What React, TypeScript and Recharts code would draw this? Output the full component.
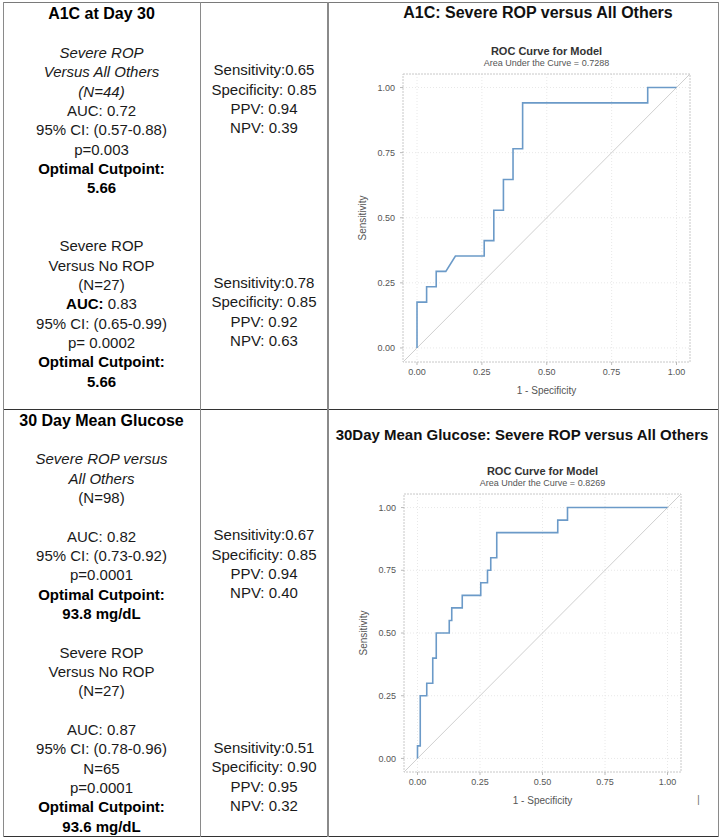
import React from "react";
import { LineChart, Line, XAxis, YAxis, CartesianGrid, ReferenceLine, ReferenceArea } from "recharts";

// ---------- data ----------
const tickValues = [0, 0.25, 0.5, 0.75, 1];
const tickLabels = ["0.00", "0.25", "0.50", "0.75", "1.00"];

const a1cFpr = [0, 0, 0.037, 0.037, 0.074, 0.074, 0.111, 0.148, 0.259, 0.259, 0.296, 0.296, 0.333, 0.333, 0.37, 0.37, 0.407, 0.407, 0.889, 0.889, 1.0];
const a1cTpr = [0, 0.176, 0.176, 0.235, 0.235, 0.294, 0.294, 0.353, 0.353, 0.412, 0.412, 0.529, 0.529, 0.647, 0.647, 0.765, 0.765, 0.941, 0.941, 1.0, 1.0];
const a1cAuc = "0.7288";

const gluFpr = [0, 0, 0.011, 0.011, 0.037, 0.037, 0.061, 0.061, 0.075, 0.075, 0.127, 0.127, 0.137, 0.137, 0.179, 0.179, 0.253, 0.253, 0.28, 0.28, 0.293, 0.293, 0.317, 0.317, 0.561, 0.561, 0.6, 0.6, 1.0];
const gluTpr = [0, 0.05, 0.05, 0.25, 0.25, 0.3, 0.3, 0.4, 0.4, 0.5, 0.5, 0.55, 0.55, 0.6, 0.6, 0.65, 0.65, 0.7, 0.7, 0.75, 0.75, 0.8, 0.8, 0.9, 0.9, 0.95, 0.95, 1.0, 1.0];
const gluAuc = "0.8269";

type Seg = { t: string; b?: boolean; i?: boolean };
type Ln = Seg[];
const L = (t: string, b = false, i = false): Ln => [{ t, b, i }];
const B: Ln = [];

const row1Col1: Ln[] = [
  L("A1C at Day 30", true), B,
  L("Severe ROP", false, true), L("Versus All Others", false, true), L("(N=44)", false, true),
  L("AUC: 0.72"), L("95% CI: (0.57-0.88)"), L("p=0.003"),
  L("Optimal Cutpoint:", true), L("5.66", true), B, B,
  L("Severe ROP"), L("Versus No ROP"), L("(N=27)"),
  [{ t: "AUC:", b: true }, { t: " 0.83" }], L("95% CI: (0.65-0.99)"), L("p= 0.0002"),
  L("Optimal Cutpoint:", true), L("5.66", true),
];
const row1Col2: Ln[] = [
  L("Sensitivity:0.65"), L("Specificity: 0.85"), L("PPV: 0.94"), L("NPV: 0.39"),
  B, B, B, B, B, B, B,
  L("Sensitivity:0.78"), L("Specificity: 0.85"), L("PPV: 0.92"), L("NPV: 0.63"),
];
const row2Col1: Ln[] = [
  L("30 Day Mean Glucose", true), B,
  L("Severe ROP versus", false, true), L("All Others", false, true), L("(N=98)"), B,
  L("AUC: 0.82"), L("95% CI: (0.73-0.92)"), L("p=0.0001"),
  L("Optimal Cutpoint:", true), L("93.8 mg/dL", true), B,
  L("Severe ROP"), L("Versus No ROP"), L("(N=27)"), B,
  L("AUC: 0.87"), L("95% CI: (0.78-0.96)"), L("N=65"), L("p=0.0001"),
  L("Optimal Cutpoint:", true), L("93.6 mg/dL", true),
];
const row2Col2: Ln[] = [
  L("Sensitivity:0.67"), L("Specificity: 0.85"), L("PPV: 0.94"), L("NPV: 0.40"),
  B, B, B, B, B, B, B,
  L("Sensitivity:0.51"), L("Specificity: 0.90"), L("PPV: 0.95"), L("NPV: 0.32"),
];

const title1 = "A1C: Severe ROP versus All Others";
const title2 = "30Day Mean Glucose: Severe ROP versus All Others";

// ---------- components ----------
const FONT = '"Liberation Sans", Arial, sans-serif';

function Cell({ lines, left, width, top, first16 }: { lines: Ln[]; left: number; width: number; top: number; first16?: boolean }) {
  return (
    <div style={{ position: "absolute", left, width, top, textAlign: "center", fontFamily: FONT, fontSize: 15, lineHeight: "19.35px", color: "#1a1a1a" }}>
      {lines.map((ln, k) => (
        <div key={k} style={{ height: 19.35, whiteSpace: "nowrap", fontSize: first16 && k === 0 ? 16 : 15 }}>
          {ln.map((s, j) => (
            <span key={j} style={{ fontWeight: s.b ? 700 : 400, fontStyle: s.i ? "italic" : "normal", color: s.b ? "#000" : undefined }}>{s.t}</span>
          ))}
        </div>
      ))}
    </div>
  );
}

function Roc({ fpr, tpr, auc, left, top, margin, domain }: { fpr: number[]; tpr: number[]; auc: string; left: number; top: number; margin: { top: number; right: number; bottom: number; left: number }; domain: [number, number] }) {
  const data = fpr.map((x, i) => ({ x, y: tpr[i] }));
  const W = 390, H = 380;
  const plotL = margin.left + 40;
  const plotR = W - margin.right;
  const cx = (plotL + plotR) / 2;
  const fmt = (v: number) => tickLabels[tickValues.indexOf(v)] ?? String(v);
  const tickStyle = { fontSize: 9, fill: "#555", fontFamily: FONT };
  return (
    <div style={{ position: "absolute", left, top, width: W, height: H }}>
      <div style={{ position: "absolute", left: cx - 150, width: 300, top: margin.top - 29, textAlign: "center", fontFamily: FONT, fontSize: 11, fontWeight: 700, color: "#333", lineHeight: "13px" }}>ROC Curve for Model</div>
      <div style={{ position: "absolute", left: cx - 150, width: 300, top: margin.top - 16, textAlign: "center", fontFamily: FONT, fontSize: 9, color: "#555", lineHeight: "11px" }}>Area Under the Curve = {auc}</div>
      <LineChart width={W} height={H} data={data} margin={margin}>
        <CartesianGrid stroke="#e8e8e8" strokeDasharray="1 2" horizontalValues={tickValues} verticalValues={tickValues} />
        <ReferenceArea x1={domain[0]} x2={domain[1]} y1={domain[0]} y2={domain[1]} fill="none" stroke="#c8c8c8" strokeDasharray="2 1" ifOverflow="visible" />
        <XAxis type="number" dataKey="x" domain={domain} allowDataOverflow ticks={tickValues} tickFormatter={fmt} height={30} tickSize={3} tickMargin={4} axisLine={false} tickLine={{ stroke: "#bbb" }} tick={tickStyle}
          label={{ value: "1 - Specificity", position: "center", dy: 13, style: { fontSize: 10, fill: "#555", fontFamily: FONT } }} />
        <YAxis type="number" domain={domain} allowDataOverflow ticks={tickValues} tickFormatter={fmt} width={40} tickSize={3} tickMargin={5} axisLine={false} tickLine={{ stroke: "#bbb" }} tick={tickStyle}
          label={{ value: "Sensitivity", angle: -90, position: "center", dx: -21, style: { fontSize: 10, fill: "#555", fontFamily: FONT, textAnchor: "middle" } }} />
        <ReferenceLine segment={[{ x: domain[0], y: domain[0] }, { x: domain[1], y: domain[1] }]} stroke="#cfcfcf" strokeWidth={1} />
        <Line type="linear" dataKey="y" stroke="#6b9ac8" strokeWidth={1.6} dot={false} isAnimationActive={false} />
      </LineChart>
    </div>
  );
}

function HLine({ y, x1, x2, c }: { y: number; x1: number; x2: number; c: string }) {
  return <div style={{ position: "absolute", left: x1, top: y, width: x2 - x1, height: 1.5, background: c }} />;
}
function VLine({ x, y1, y2, c }: { x: number; y1: number; y2: number; c: string }) {
  return <div style={{ position: "absolute", left: x, top: y1, width: 1.5, height: y2 - y1, background: c }} />;
}

export default function App() {
  return (
    <div style={{ position: "absolute", left: 0, top: 0, width: 720, height: 838, background: "#fff", overflow: "hidden" }}>
      <Roc fpr={a1cFpr} tpr={a1cTpr} auc={a1cAuc} left={330} top={30} margin={{ top: 44, right: 30, bottom: 18, left: 33 }} domain={[-0.054, 1.052]} />
      <Roc fpr={gluFpr} tpr={gluTpr} auc={gluAuc} left={330} top={440} margin={{ top: 54, right: 39, bottom: 18, left: 34 }} domain={[-0.054, 1.054]} />

      <HLine y={1.5} x1={3} x2={719} c="#7a7a7a" />
      <HLine y={408.8} x1={3} x2={719} c="#333" />
      <HLine y={835.5} x1={3} x2={719} c="#333" />
      <VLine x={2.5} y1={1.5} y2={837} c="#8a8a8a" />
      <VLine x={199.5} y1={1.5} y2={837} c="#8a8a8a" />
      <VLine x={327} y1={1.5} y2={837} c="#8a8a8a" />
      <VLine x={717.5} y1={1.5} y2={837} c="#8a8a8a" />

      <Cell lines={row1Col1} left={3} width={197} top={4.3} first16 />
      <Cell lines={row1Col2} left={200} width={128} top={60.3} />
      <Cell lines={row2Col1} left={3} width={197} top={410.5} first16 />
      <Cell lines={row2Col2} left={200} width={128} top={525.3} />

      <div style={{ position: "absolute", left: 338, width: 400, top: 3, textAlign: "center", fontFamily: FONT, fontSize: 16, fontWeight: 700, lineHeight: "20px", color: "#111" }}>{title1}</div>
      <div style={{ position: "absolute", left: 322, width: 400, top: 425, textAlign: "center", fontFamily: FONT, fontSize: 15, fontWeight: 700, lineHeight: "20px", color: "#111", whiteSpace: "nowrap" }}>{title2}</div>
      <div style={{ position: "absolute", left: 697, top: 793, fontFamily: FONT, fontSize: 11, color: "#777" }}>|</div>
    </div>
  );
}
